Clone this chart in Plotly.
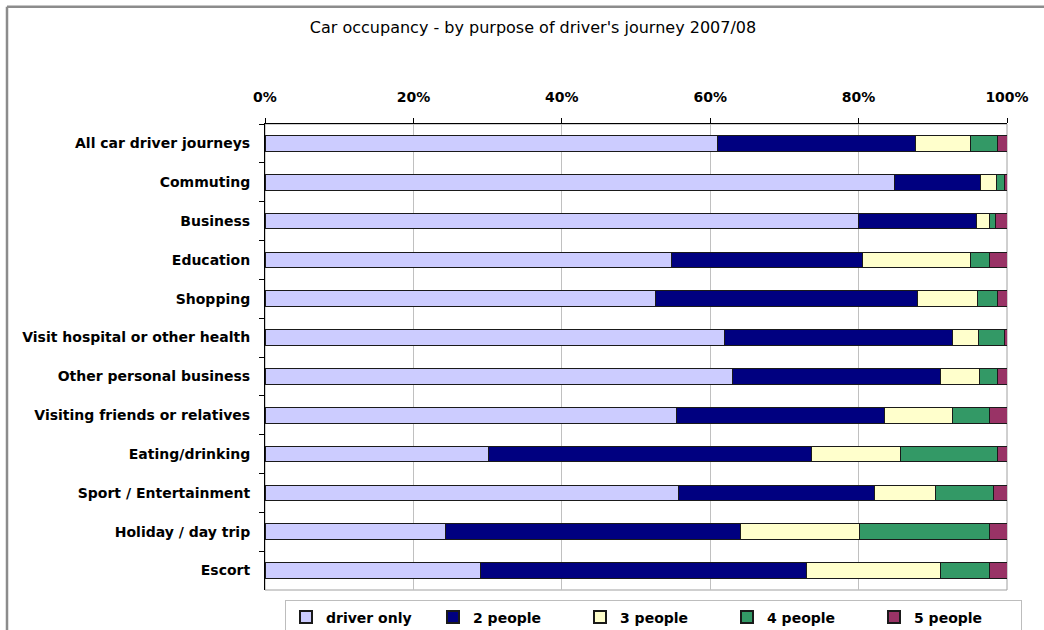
import plotly.graph_objects as go

categories = [
    "All car driver journeys", "Commuting", "Business", "Education", "Shopping",
    "Visit hospital or other health", "Other personal business",
    "Visiting friends or relatives", "Eating/drinking", "Sport / Entertainment",
    "Holiday / day trip", "Escort",
]
driver_only = [61.0, 84.8, 80.0, 54.8, 52.6, 61.9, 63.0, 55.4, 30.1, 55.7, 24.3, 29.1]
two_people = [26.7, 11.6, 15.9, 25.7, 35.4, 30.7, 28.0, 28.1, 43.5, 26.5, 39.8, 43.9]
three_people = [7.4, 2.2, 1.8, 14.6, 8.0, 3.5, 5.3, 9.1, 12.1, 8.1, 16.0, 18.1]
four_people = [3.6, 1.0, 0.7, 2.6, 2.7, 3.5, 2.4, 5.0, 13.0, 7.9, 17.5, 6.5]
five_people = [1.3, 0.4, 1.6, 2.3, 1.3, 0.4, 1.3, 2.4, 1.3, 1.8, 2.4, 2.4]

series = [
    ("driver only", driver_only, "#CCCCFF"),
    ("2 people", two_people, "#000080"),
    ("3 people", three_people, "#FFFFCC"),
    ("4 people", four_people, "#339966"),
    ("5 people", five_people, "#993366"),
]

FONT = "DejaVu Sans, Liberation Sans, Arial, sans-serif"

fig = go.Figure()
for name, vals, color in series:
    fig.add_trace(go.Bar(
        y=categories, x=vals, name=name, orientation="h",
        marker=dict(color=color, line=dict(color="#1a1a1a", width=1)),
    ))

L, R, T, B = 265, 37, 123.5, 39.5
W, H = 1044, 630
pw, ph = W - L - R, H - T - B

def px_x(x):
    return (x - L) / pw

def px_y(y):
    return (H - B - y) / ph

fig.update_layout(
    width=W, height=H,
    margin=dict(l=L, r=R, t=T, b=B, autoexpand=False),
    barmode="stack", bargap=0.6,
    paper_bgcolor="white", plot_bgcolor="white",
    font=dict(family=FONT, color="black"),
    title=dict(text="Car occupancy - by purpose of driver's journey 2007/08",
               x=px_x(533), xref="paper", xanchor="center",
               y=1 - 27 / H, yref="container", yanchor="middle",
               font=dict(size=16, family=FONT, color="black")),
    xaxis=dict(
        side="top", range=[0, 100], tickvals=[0, 20, 40, 60, 80, 100],
        ticktext=["0%", "20%", "40%", "60%", "80%", "100%"],
        tickfont=dict(size=14, family=FONT, weight="bold"),
        showgrid=True, gridcolor="#c0c0c0", gridwidth=1,
        showline=True, linecolor="black", linewidth=1,
        ticks="outside", ticklen=5, tickcolor="black", ticklabelstandoff=10,
        zeroline=False, fixedrange=True,
    ),
    yaxis=dict(
        categoryorder="array", categoryarray=categories, autorange="reversed",
        tickfont=dict(size=14, family=FONT, weight="bold"),
        showline=True, linecolor="black", linewidth=1,
        ticks="outside", ticklen=5, tickcolor="black", tickson="boundaries",
        ticklabelstandoff=11,
        showgrid=False, fixedrange=True,
    ),
    legend=dict(
        orientation="h", x=px_x(285), y=px_y(601), xanchor="left", yanchor="top",
        bordercolor="#bdbdbd", borderwidth=1, bgcolor="white",
        font=dict(size=14, family=FONT, weight="bold"),
        traceorder="normal", entrywidth=102, itemsizing="constant",
    ),
    showlegend=True,
)

# plot area border (right/bottom gray)
fig.add_shape(type="rect", xref="paper", yref="paper", x0=0, x1=1, y0=0, y1=1,
              line=dict(color="#a0a0a0", width=1), layer="below")
# outer chart frame (left and top)
fig.add_shape(type="line", xref="paper", yref="paper",
              x0=px_x(7), x1=px_x(7), y0=px_y(6), y1=px_y(640),
              line=dict(color="#8c8c8c", width=2.5))
fig.add_shape(type="line", xref="paper", yref="paper",
              x0=px_x(7), x1=px_x(1050), y0=px_y(6), y1=px_y(6),
              line=dict(color="#8c8c8c", width=2.5))

fig.write_html("out.html")
